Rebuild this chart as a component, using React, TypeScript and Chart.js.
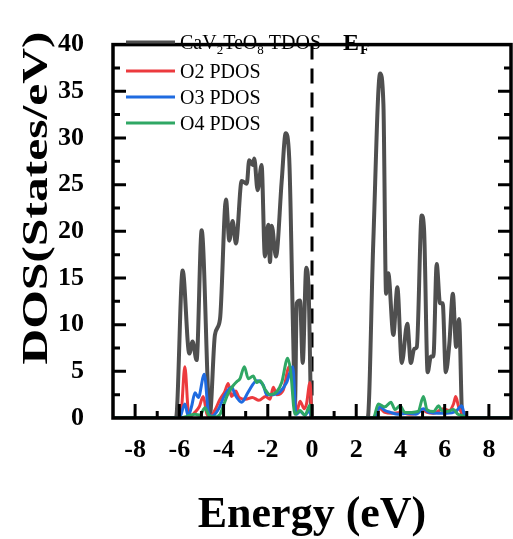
import React, { useEffect, useRef } from 'react';
import { Chart, registerables } from 'chart.js';

Chart.register(...registerables);

// ---------- data ----------
const tdosE = [-9, -6.15, -5.85, -5.55, -5.4, -5.22, -4.99, -4.62, -4.39, -4.16, -3.89, -3.74, -3.59, -3.44, -3.18, -2.95, -2.84, -2.68, -2.61, -2.46, -2.28, -2.13, -1.98, -1.9, -1.82, -1.63, -1.37, -1.19, -1.03, -0.85, -0.77, -0.69, -0.54, -0.42, -0.26, -0.15, -0.02, 2.52, 2.77, 3.08, 3.23, 3.35, 3.45, 3.68, 3.86, 4.06, 4.31, 4.47, 4.62, 4.74, 4.96, 5.07, 5.23, 5.38, 5.49, 5.64, 5.79, 5.91, 6.05, 6.21, 6.37, 6.52, 6.65, 6.8, 9];
const tdosV = [0, 0, 15.8, 6.9, 8.2, 6.2, 20.1, 0.3, 8.9, 10.6, 23.4, 19.0, 21.1, 18.7, 25.4, 25.1, 27.6, 27.1, 27.8, 24.4, 27.1, 17.3, 20.7, 16.7, 20.6, 17.3, 25.4, 30.5, 27.8, 8.6, 1.5, 12.3, 12.6, 5.9, 16.1, 13.5, 0, 0, 18.7, 36.9, 33.6, 13.3, 15.5, 8.9, 14.0, 5.9, 10.1, 5.9, 7.4, 7.6, 21.7, 20.1, 4.9, 6.6, 6.6, 16.5, 12.3, 12.3, 4.9, 7.9, 13.3, 7.6, 10.6, 0, 0];

const o2E = [-9, -6.0, -5.9, -5.75, -5.6, -5.5, -5.3, -5.1, -4.92, -4.75, -4.6, -4.4, -4.16, -3.95, -3.79, -3.64, -3.45, -3.3, -3.0, -2.7, -2.4, -2.1, -1.9, -1.75, -1.6, -1.3, -1.03, -0.85, -0.69, -0.54, -0.35, -0.25, -0.09, 0, 2.8, 3.07, 3.3, 3.6, 4.0, 4.4, 4.7, 4.97, 5.2, 5.5, 5.93, 6.2, 6.4, 6.5, 6.63, 6.85, 6.95, 9];
const o2V = [0, 0, 1.0, 5.5, 0.8, 0.2, 0.6, 1.2, 2.3, 0.4, 0.1, 0.8, 2.0, 2.8, 3.7, 2.3, 2.9, 2.2, 2.0, 2.2, 1.9, 2.3, 2.0, 3.3, 2.5, 3.0, 5.5, 3.5, 0.7, 1.8, 1.0, 1.5, 3.8, 0, 0, 1.0, 0.6, 0.5, 0.6, 0.4, 0.5, 0.9, 0.6, 0.5, 1.0, 0.8, 1.5, 2.3, 1.2, 0.3, 0, 0];

const o3E = [-9, -6.0, -5.75, -5.6, -5.45, -5.29, -5.14, -4.87, -4.67, -4.52, -4.22, -3.94, -3.63, -3.48, -3.18, -2.88, -2.5, -2.2, -2.05, -1.75, -1.45, -1.15, -0.87, -0.72, -0.54, -0.32, -0.12, 0, 2.8, 3.07, 3.3, 3.55, 3.9, 4.3, 4.7, 5.04, 5.3, 5.7, 6.1, 6.5, 6.77, 6.9, 7.0, 9];
const o3V = [0, 0, 1.5, 0.2, 1.2, 2.7, 2.2, 4.7, 0.4, 0.2, 1.0, 2.5, 3.3, 2.5, 1.7, 2.8, 4.0, 3.5, 2.5, 2.5, 2.8, 3.8, 5.5, 0.4, 0.7, 0.3, 0.8, 0, 0, 1.2, 0.8, 0.6, 0.4, 0.5, 0.4, 1.0, 0.6, 0.5, 0.5, 0.7, 1.3, 0.3, 0, 0];

const o4E = [-9, -6.0, -5.75, -5.5, -5.29, -5.07, -4.84, -4.67, -4.44, -4.16, -3.98, -3.8, -3.59, -3.4, -3.26, -3.06, -2.88, -2.66, -2.5, -2.35, -2.13, -1.9, -1.6, -1.37, -1.1, -0.97, -0.77, -0.54, -0.32, -0.09, 0, 2.77, 3.0, 3.3, 3.57, 3.75, 3.98, 4.2, 4.5, 4.8, 5.04, 5.2, 5.5, 5.72, 5.87, 6.1, 6.4, 6.6, 6.85, 6.95, 9];
const o4V = [0, 0, 0.1, 0.3, 0.4, 0.3, 1.1, 0.3, 0.1, 0.4, 1.5, 2.6, 3.4, 3.9, 4.2, 5.5, 4.2, 4.5, 3.8, 4.0, 3.1, 2.5, 2.8, 3.8, 6.4, 5.1, 0.4, 0.8, 0.3, 1.4, 0, 0, 1.5, 1.2, 1.7, 0.9, 1.3, 0.6, 0.6, 0.7, 2.3, 0.9, 0.7, 1.3, 0.8, 0.7, 0.9, 0.4, 0.2, 0, 0];

const xTickValues = [-8, -6, -4, -2, 0, 2, 4, 6, 8];
const yTickValues = [0, 5, 10, 15, 20, 25, 30, 35, 40];

const seriesNames = ['CaV₂TeO₈ TDOS', 'O2 PDOS', 'O3 PDOS', 'O4 PDOS'];
const seriesColors = ['#4f4f4f', '#ec3a3e', '#1f6be0', '#2fa764'];

const xTitle = 'Energy (eV)';
const yTitle = 'DOS(States/eV)';

const FONT = "'Liberation Serif', 'Times New Roman', serif";

const toPts = (xs: number[], ys: number[]) => xs.map((x, i) => ({ x, y: ys[i] }));

const decor = {
  id: 'decor',
  beforeDatasetsDraw(chart: any) {
    const { ctx, chartArea: a, scales } = chart;
    const x0 = scales.x.getPixelForValue(0);
    ctx.save();
    ctx.strokeStyle = '#000';
    ctx.lineWidth = 3;
    ctx.setLineDash([15, 9]);
    ctx.beginPath();
    ctx.moveTo(x0, a.top);
    ctx.lineTo(x0, a.bottom);
    ctx.stroke();
    ctx.restore();
  },
  afterDatasetsDraw(chart: any) {
    const { ctx, chartArea: a, scales } = chart;
    const xs = scales.x;
    const ys = scales.y;
    ctx.save();
    // ticks (inward)
    ctx.strokeStyle = '#000';
    ctx.lineWidth = 3;
    ctx.beginPath();
    for (let v = -8; v <= 8; v++) {
      const px = xs.getPixelForValue(v);
      const len = v % 2 === 0 ? 14 : 7;
      ctx.moveTo(px, a.bottom);
      ctx.lineTo(px, a.bottom - len);
    }
    for (let v = 2.5; v < 40; v += 2.5) {
      const py = ys.getPixelForValue(v);
      const len = v % 5 === 0 ? 13 : 7;
      ctx.moveTo(a.left, py);
      ctx.lineTo(a.left + len, py);
      ctx.moveTo(a.right, py);
      ctx.lineTo(a.right - len, py);
    }
    ctx.stroke();
    // frame
    ctx.lineWidth = 3.5;
    ctx.strokeRect(a.left, a.top, a.right - a.left, a.bottom - a.top);

    // legend
    const rowY = [42, 71, 97, 123];
    ctx.fillStyle = '#000';
    ctx.textBaseline = 'alphabetic';
    ctx.textAlign = 'left';
    for (let i = 0; i < 4; i++) {
      ctx.strokeStyle = seriesColors[i];
      ctx.lineWidth = 3;
      ctx.beginPath();
      ctx.moveTo(126, rowY[i]);
      ctx.lineTo(175, rowY[i]);
      ctx.stroke();
      const base = rowY[i] + 6.5;
      if (i === 0) {
        const parts: [string, boolean][] = [['CaV', false], ['2', true], ['TeO', false], ['8', true], [' TDOS', false]];
        let x = 180;
        for (const [t, sub] of parts) {
          ctx.font = sub ? `13px ${FONT}` : `20px ${FONT}`;
          ctx.fillText(t, x, sub ? base + 5 : base);
          x += ctx.measureText(t).width;
        }
      } else {
        ctx.font = `20px ${FONT}`;
        ctx.fillText(seriesNames[i], 180, base);
      }
    }

    // E_F
    ctx.font = `bold 24px ${FONT}`;
    ctx.fillText('E', 343, 50);
    const wE = ctx.measureText('E').width;
    ctx.font = `bold 15px ${FONT}`;
    ctx.fillText('F', 343 + wE + 1, 54);

    // x title
    ctx.font = `bold 44px ${FONT}`;
    ctx.textAlign = 'center';
    ctx.fillText(xTitle, (a.left + a.right) / 2, 527);

    // y title (stretched along its length as in the reference)
    ctx.font = `bold 35px ${FONT}`;
    const w = ctx.measureText(yTitle).width;
    ctx.translate(38, 198);
    ctx.rotate(-Math.PI / 2);
    ctx.scale(333 / w, 1);
    ctx.textBaseline = 'middle';
    ctx.fillText(yTitle, 0, 0);
    ctx.restore();
  },
};

export default function App() {
  const ref = useRef<HTMLCanvasElement | null>(null);
  useEffect(() => {
    document.body.style.margin = '0';
    const canvas = ref.current!;
    const mk = (i: number, xs: number[], vs: number[], bw: number) => ({
      label: seriesNames[i],
      data: toPts(xs, vs),
      borderColor: seriesColors[i],
      backgroundColor: seriesColors[i],
      borderWidth: bw,
      pointRadius: 0,
      fill: false,
      cubicInterpolationMode: 'monotone' as const,
      order: 4 - i,
    });
    const chart = new Chart(canvas, {
      type: 'line',
      data: {
        datasets: [
          mk(0, tdosE, tdosV, 4),
          mk(1, o2E, o2V, 3),
          mk(2, o3E, o3V, 3),
          mk(3, o4E, o4V, 3),
        ],
      },
      options: {
        responsive: false,
        animation: false,
        devicePixelRatio: 1,
        layout: { padding: { top: 23, right: 2, left: 0, bottom: 0 } },
        plugins: { legend: { display: false }, tooltip: { enabled: false } },
        scales: {
          x: {
            type: 'linear',
            min: -9,
            max: 9,
            grid: { display: false, drawTicks: false },
            border: { display: false },
            afterBuildTicks: (s: any) => { s.ticks = xTickValues.map((v) => ({ value: v })); },
            afterFit: (s: any) => { s.height = 121; },
            ticks: {
              color: '#000',
              padding: 17,
              maxRotation: 0,
              autoSkip: false,
              font: { family: FONT, size: 26, weight: 'bold' },
              callback: (v: any) => String(v),
            },
          },
          y: {
            type: 'linear',
            min: 0,
            max: 40,
            grid: { display: false, drawTicks: false },
            border: { display: false },
            afterBuildTicks: (s: any) => { s.ticks = yTickValues.map((v) => ({ value: v })); },
            afterFit: (s: any) => { s.width = 113; },
            ticks: {
              color: '#000',
              padding: 29,
              autoSkip: false,
              font: { family: FONT, size: 26, weight: 'bold' },
              callback: (v: any) => String(v),
            },
          },
        },
      },
      plugins: [decor],
    });
    return () => chart.destroy();
  }, []);
  return <canvas ref={ref} width={513} height={539} style={{ display: 'block' }} />;
}
